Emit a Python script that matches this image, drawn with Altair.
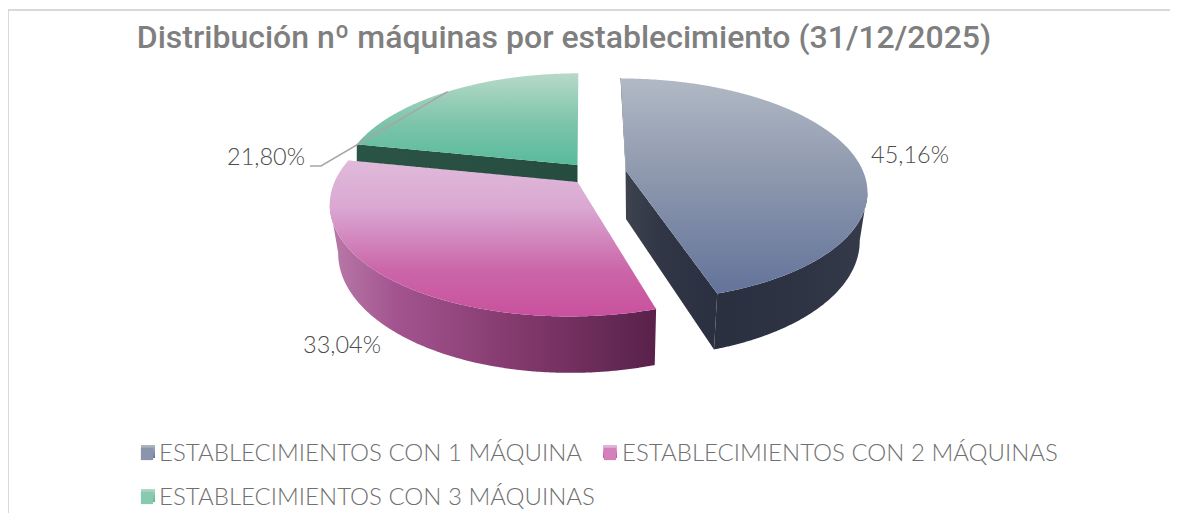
import math
import pandas as pd
import altair as alt

TITLE = "Distribución nº máquinas por establecimiento (31/12/2025)"
CATEGORIES = ["ESTABLECIMIENTOS CON 1 MÁQUINA", "ESTABLECIMIENTOS CON 2 MÁQUINAS", "ESTABLECIMIENTOS CON 3 MÁQUINAS"]
SHARES = [45.16, 33.04, 21.80]
LABELS = ["45,16%", "33,04%", "21,80%"]
LEGEND_COLORS = ["#8a94aa", "#d480bb", "#88caaf"]

W, H = 1162, 505
TOP = 60
BOTTOM_SCREEN = TOP + (H - (TOP - 8))
X_SCALE = alt.Scale(domain=[8, 8 + W], range=[0, W], nice=False, zero=False)
Y_SCALE = alt.Scale(domain=[BOTTOM_SCREEN, TOP], nice=False, zero=False)

# perspective model of the 3D pie: apex position, radii, shear, depth per slice
K = 0.167
DEPTH = 47
VX, CONV = 610, 0.03
MODEL = [
    dict(ax=626, ay=171, A=237, B=108, s=-6),
    dict(ax=577.5, ay=182, A=243, B=112, s=7),
    dict(ax=577.5, ay=165, A=233, B=107, s=1),
]


def angles():
    out, acc = [], 0.0
    total = sum(SHARES)
    for v in SHARES:
        out.append((acc * 2 * math.pi / total, (acc + v) * 2 * math.pi / total))
        acc += v
    return out


def proj(m, th):
    u, v = math.sin(th), math.cos(th)
    w = 1 + K * v
    return m["ax"] + (m["A"] * u + m["s"] * v) / w, m["ay"] - m["B"] * v / w, w


def down(pt, w):
    x, y = pt
    return x - (x - VX) * CONV, y + DEPTH / w


def arc(m, a, b, n=100):
    return [proj(m, a + (b - a) * i / n) for i in range(n + 1)]


def rows(poly):
    xs = sorted({round(p[0], 2) for p in poly})
    dense = set(xs)
    lo, hi = xs[0], xs[-1]
    n = 160
    for i in range(n + 1):
        dense.add(round(lo + (hi - lo) * i / n, 2))
    out = []
    for x in sorted(dense):
        ys = []
        for (x0, y0), (x1, y1) in zip(poly, poly[1:] + poly[:1]):
            x0r, x1r = round(x0, 2), round(x1, 2)
            if min(x0r, x1r) <= x <= max(x0r, x1r):
                if x0r == x1r:
                    ys += [y0, y1]
                else:
                    ys.append(y0 + (y1 - y0) * (x - x0r) / (x1r - x0r))
        if ys:
            out.append({"x": x, "y": min(ys), "y2": max(ys)})
    return pd.DataFrame(out)


def grad(colors, horizontal=False):
    stops = [alt.GradientStop(offset=c[0], color=c[1]) for c in colors]
    if horizontal:
        return alt.LinearGradient(gradient="linear", stops=stops, x1=0, x2=1, y1=0, y2=0)
    return alt.LinearGradient(gradient="linear", stops=stops, x1=0, x2=0, y1=0, y2=1)


def face(poly, fill):
    return alt.Chart(rows(poly)).mark_area(color=fill, interpolate="linear", line=False, clip=False).encode(
        x=alt.X("x:Q", scale=X_SCALE, axis=None),
        y=alt.Y("y:Q", scale=Y_SCALE, axis=None),
        y2="y2:Q",
    )


GRAD_TOP1 = grad([(0, "#b1b9c5"), (0.4, "#929cb0"), (1, "#63739a")])
GRAD_TOP2 = grad([(0, "#e0bada"), (0.3, "#daa8d3"), (0.7, "#cb66a9"), (1, "#c9519d")])
GRAD_TOP3 = grad([(0, "#b7d9c9"), (0.55, "#7cc4aa"), (1, "#58bb9c")])

ang = angles()
layers = []

# slice 3 (back)
m = MODEL[2]
a, b = ang[2]
pts = arc(m, a, b)
xy = [(p[0], p[1]) for p in pts]
apex = (m["ax"], m["ay"])
p0 = pts[0]
layers.append(face([(p0[0], p0[1]), apex, (apex[0], apex[1] + DEPTH), (p0[0], p0[1] + DEPTH)],
                   grad([(0, "#2a5445"), (1, "#264c40")], True)))
layers.append(face([apex] + xy, GRAD_TOP3))

# slice 2
m = MODEL[1]
a, b = ang[1]
pts = arc(m, a, b)
xy = [(p[0], p[1]) for p in pts]
apex = (m["ax"], m["ay"])
imin = min(range(len(pts)), key=lambda i: pts[i][0])
wall_pts = pts[:imin + 1]
tops = [(p[0], p[1]) for p in wall_pts]
bots = [down((p[0], p[1]), p[2]) for p in wall_pts][::-1]
layers.append(face(tops + bots, grad([(0, "#b97ba8"), (0.2, "#a3548f"), (0.55, "#853b6f"), (1, "#58214a")], True)))
layers.append(face([apex] + xy, GRAD_TOP2))

# slice 1 (exploded)
m = MODEL[0]
a, b = ang[0]
pts = arc(m, a, b)
xy = [(p[0], p[1]) for p in pts]
apex = (m["ax"], m["ay"])
end = pts[-1]
layers.append(face([(620.5, 78), (621, 78), (apex[0], apex[1]), (apex[0], apex[1] + DEPTH + 1), (625.6, apex[1] - 1)], "#2c3242"))
layers.append(face([apex, (end[0], end[1]), down((end[0], end[1]), end[2]), (apex[0], apex[1] + DEPTH + 1)],
                   grad([(0, "#3d424e"), (0.4, "#303645"), (1, "#2a3040")], True)))
imax = max(range(len(pts)), key=lambda i: pts[i][0])
wall_pts = pts[imax:]
tops = [(p[0], p[1]) for p in wall_pts]
bots = [down((p[0], p[1]), p[2]) for p in wall_pts][::-1]
layers.append(face(tops + bots, grad([(0, "#2a3040"), (0.6, "#2e3443"), (1, "#353b4a")], True)))
layers.append(face([apex] + xy, GRAD_TOP1))

# leader line of the third label
m3 = MODEL[2]
mid = (ang[2][0] + ang[2][1]) / 2
lx, ly, _ = proj(m3, mid)
leader = pd.DataFrame({"x": [310, 321, lx], "y": [166, 166, ly], "o": [0, 1, 2]})
layers.append(alt.Chart(leader).mark_line(color="#a6a6a6", strokeWidth=1.5).encode(
    x=alt.X("x:Q", scale=X_SCALE, axis=None),
    y=alt.Y("y:Q", scale=Y_SCALE, axis=None),
    order="o:Q",
))

# data labels
lab = pd.DataFrame({"x": [871, 303, 227], "y": [156, 346, 158], "t": LABELS})
layers.append(alt.Chart(lab).mark_text(font="Lato", fontSize=23.5, fontWeight=300, color="#4d4d4d", align="left", baseline="middle").encode(
    x=alt.X("x:Q", scale=X_SCALE, axis=None),
    y=alt.Y("y:Q", scale=Y_SCALE, axis=None),
    text="t:N",
))

# chart frame (top and left edge)
frame_top = pd.DataFrame({"x": [8], "x2": [1170], "y": [10]})
frame_left = pd.DataFrame({"x": [8], "y": [10], "y2": [BOTTOM_SCREEN]})
layers.append(alt.Chart(frame_top).mark_rule(color="#d9d9d9", strokeWidth=2).encode(
    x=alt.X("x:Q", scale=X_SCALE, axis=None), x2="x2:Q", y=alt.Y("y:Q", scale=Y_SCALE, axis=None)))
layers.append(alt.Chart(frame_left).mark_rule(color="#d9d9d9", strokeWidth=2).encode(
    x=alt.X("x:Q", scale=X_SCALE, axis=None), y=alt.Y("y:Q", scale=Y_SCALE, axis=None), y2="y2:Q"))

# legend
legend_df = pd.DataFrame({"c": CATEGORIES, "v": SHARES})
layers.append(alt.Chart(legend_df).transform_filter("false").mark_square(size=150).encode(
    color=alt.Color("c:N", scale=alt.Scale(domain=CATEGORIES, range=LEGEND_COLORS),
                    legend=alt.Legend(title=None, orient="none", legendX=135 - 8, legendY=442 - TOP,
                                      columns=2, direction="horizontal", symbolType="square", symbolSize=150,
                                      labelFont="Lato", labelFontSize=24, labelFontWeight=300, labelColor="#707070",
                                      labelLimit=600, columnPadding=3, rowPadding=20, labelOffset=0,
                                      symbolStrokeWidth=0, symbolOpacity=1)),
))

# gradient finish of the legend swatches
for (x0, y0), fill in zip([(141, 445), (603, 445), (141, 489)], [GRAD_TOP1, GRAD_TOP2, GRAD_TOP3]):
    layers.append(face([(x0, y0), (x0 + 14, y0), (x0 + 14, y0 + 13), (x0, y0 + 13)], fill))

chart = alt.layer(*layers).properties(
    width=W, height=H - (TOP - 8),
    title=alt.TitleParams(TITLE, font="Roboto", fontSize=32, fontWeight=500, color="#7f7f7f",
                          anchor="middle", frame="group", dx=-25, offset=-46),
    autosize=alt.AutoSizeParams(type="none"),
    padding={"left": 0, "top": TOP - 8, "right": 0, "bottom": 0},
).configure_view(stroke=None)

chart.save("out.html", embed_options={"renderer": "svg", "actions": False})
